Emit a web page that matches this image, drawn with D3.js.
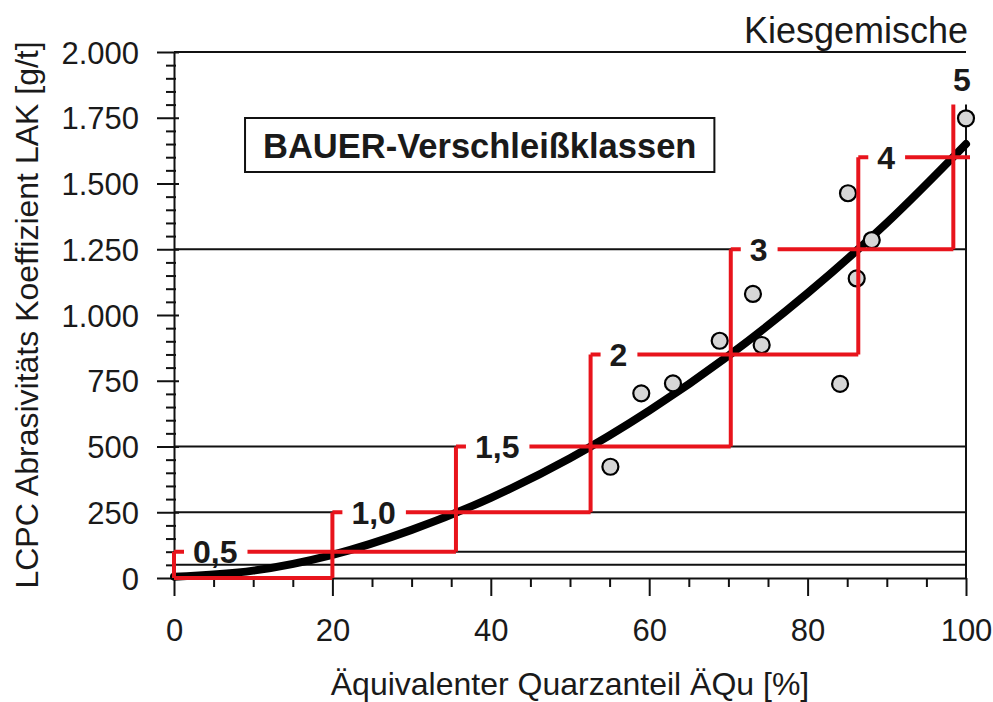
<html>

<head>
	<title>LAK BAUER-Verschleissklassen</title>
	<style>
		body {
			margin:0;
			padding:0;
			background:#fff;
		}
		svg { display:block; }
		text {
			font-family: "Liberation Sans", Arial, sans-serif;
			fill:#1a1a1a;
		}
		.axis path, .axis line { stroke:#111; stroke-width:2; }
		.axis text { font-size:31px; }
		.minor path { display:none; }
	</style>
</head>

<body>

	<svg width="993" height="702"></svg>

	<script src="https://d3js.org/d3.v7.min.js"></script>

	<script>

		// BAUER wear classes: label, LAK level, AQu boundaries where the fit line crosses the levels
		var classLabels = ["0,5", "1,0", "1,5", "2", "3", "4", "5"];
		var classLevels = [100, 250, 500, 850, 1250, 1600, 1800];
		var classBounds = [0, 20, 35.6, 52.6, 70.3, 86.4, 98.4, 100];

		// horizontal reference lines (LCPC classes)
		var gridLevels = [50, 100, 250, 500, 1250, 2000];

		// fit line
		var curveX = [0, 10, 20, 30, 40, 50, 60, 70, 80, 90, 100];
		var curveY = [5, 28, 88, 183, 305, 455, 636, 845, 1083, 1350, 1650];

		// measured gravel mixtures
		var sampleX = [55.1, 59.0, 63.0, 68.9, 73.1, 74.2, 84.1, 85.1, 86.2, 88.1, 100];
		var sampleY = [423, 702, 740, 902, 1080, 886, 738, 1463, 1139, 1285, 1748];

		var xTicks = [0, 20, 40, 60, 80, 100];
		var yTicks = [0, 250, 500, 750, 1000, 1250, 1500, 1750, 2000];

		var margin = {left:174, right:27, top:52, bottom:124};
		var width = 993, height = 702;

		var x = d3.scaleLinear().domain([0, 100]).range([margin.left, width - margin.right]);
		var y = d3.scaleLinear().domain([0, 2000]).range([height - margin.bottom, margin.top]);

		var red = "#e8141c";
		var svg = d3.select("svg");

		var de = d3.formatLocale({decimal:",", thousands:".", grouping:[3], currency:["", " €"]});
		var fmt = de.format(",");

		// grid lines
		svg.append("g")
			.selectAll("line")
			.data(gridLevels)
			.enter()
			.append("line")
			.attr("x1", x(0))
			.attr("x2", x(100))
			.attr("y1", function(d){ return y(d); })
			.attr("y2", function(d){ return y(d); })
			.style("stroke", "#111")
			.style("stroke-width", 2);

		// right border
		svg.append("line")
			.attr("x1", x(100)).attr("x2", x(100))
			.attr("y1", y(0)).attr("y2", y(classLevels[6]))
			.style("stroke", "#111")
			.style("stroke-width", 2);

		// minor ticks
		var minorY = d3.range(0, 2001, 50).filter(function(v){ return v % 250 != 0; });
		var minorX = d3.range(0, 101, 5).filter(function(v){ return v % 20 != 0; });

		svg.append("g")
			.attr("class", "axis minor")
			.attr("transform", "translate(" + x(0) + ",0)")
			.call(d3.axisLeft(y).tickValues(minorY).tickSize(8).tickFormat(""))
			.selectAll(".tick line").attr("x1", 2);

		svg.append("g")
			.attr("class", "axis minor")
			.attr("transform", "translate(0," + y(0) + ")")
			.call(d3.axisBottom(x).tickValues(minorX).tickSize(9).tickFormat(""));

		// major axes
		var yAxis = svg.append("g")
			.attr("class", "axis")
			.attr("transform", "translate(" + x(0) + ",0)")
			.call(d3.axisLeft(y).tickValues(yTicks).tickSizeInner(17).tickSizeOuter(0).tickPadding(18).tickFormat(fmt));
		yAxis.selectAll(".tick line").attr("x1", 5);
		yAxis.selectAll("text").attr("fill", "#1a1a1a").attr("dy", "0.36em");

		var xAxis = svg.append("g")
			.attr("class", "axis")
			.attr("transform", "translate(0," + y(0) + ")")
			.call(d3.axisBottom(x).tickValues(xTicks).tickSizeInner(18).tickSizeOuter(0).tickPadding(23));
		xAxis.selectAll("text").attr("fill", "#1a1a1a");

		// fit line
		var line = d3.line()
			.x(function(d){ return x(d[0]); })
			.y(function(d){ return y(d[1]); })
			.curve(d3.curveMonotoneX);

		svg.append("path")
			.datum(d3.zip(curveX, curveY))
			.attr("d", line)
			.style("fill", "none")
			.style("stroke", "#000")
			.style("stroke-width", 8)
			.style("stroke-linecap", "round");

		// samples
		svg.append("g")
			.selectAll("circle")
			.data(d3.zip(sampleX, sampleY))
			.enter()
			.append("circle")
			.attr("cx", function(d){ return x(d[0]); })
			.attr("cy", function(d){ return y(d[1]); })
			.attr("r", 8)
			.style("fill", "#d6d6d6")
			.style("stroke", "#000")
			.style("stroke-width", 2.2);

		// staircase of the wear classes
		var levels = [0].concat(classLevels);
		var stairs = svg.append("g");
		for (var i = 0; i < levels.length - 1; i++) {
			var left = classBounds[Math.max(i - 1, 0)];
			var right = classBounds[i + 1];
			var ext = i == levels.length - 2 ? 4 : 0;
			stairs.append("line")
				.attr("x1", x(left)).attr("x2", x(right) + ext)
				.attr("y1", y(levels[i])).attr("y2", y(levels[i]));
			stairs.append("line")
				.attr("x1", x(classBounds[i])).attr("x2", x(classBounds[i]))
				.attr("y1", y(i == 0 ? 0 : levels[i - 1])).attr("y2", y(levels[i + 1]));
		}
		stairs.selectAll("line")
			.style("stroke", red)
			.style("stroke-width", 4);

		// class labels sitting in a gap of the red line
		var labels = svg.append("g");
		for (var k = 1; k < levels.length - 1; k++) {
			var x0 = x(classBounds[k - 1]);
			var ly = y(levels[k]);
			var gap = labels.append("rect").style("fill", "#fff");
			var t = labels.append("text")
				.attr("x", x0 + 19)
				.attr("y", ly)
				.attr("dy", "0.36em")
				.style("font-size", "32px")
				.style("font-weight", "bold")
				.text(classLabels[k - 1]);
			var w = t.node().getComputedTextLength();
			gap.attr("x", x0 + 10)
				.attr("y", ly - 10)
				.attr("width", w + 19)
				.attr("height", 20);
		}
		labels.append("text")
			.attr("x", x(100) - 4)
			.attr("y", y(1895))
			.attr("dy", "0.36em")
			.attr("text-anchor", "middle")
			.style("font-size", "32px")
			.style("font-weight", "bold")
			.text(classLabels[6]);

		// legend box
		var legend = svg.append("g");
		var legendRect = legend.append("rect");
		var legendText = legend.append("text")
			.attr("x", x(38.6))
			.attr("y", 158)
			.attr("text-anchor", "middle")
			.style("font-size", "34.5px")
			.style("font-weight", "bold")
			.text("BAUER-Verschleißklassen");
		var bb = legendText.node().getBBox();
		legendRect
			.attr("x", bb.x - 18)
			.attr("y", 118)
			.attr("width", bb.width + 36)
			.attr("height", 54)
			.style("fill", "#fff")
			.style("stroke", "#111")
			.style("stroke-width", 2);

		// titles
		svg.append("text")
			.attr("x", x(100) + 2)
			.attr("y", 43)
			.attr("text-anchor", "end")
			.style("font-size", "36px")
			.text("Kiesgemische");

		svg.append("text")
			.attr("x", (x(0) + x(100)) / 2)
			.attr("y", 695)
			.attr("text-anchor", "middle")
			.style("font-size", "32px")
			.text("Äquivalenter Quarzanteil ÄQu [%]");

		svg.append("text")
			.attr("transform", "translate(38," + (y(0) + y(2000)) / 2 + ") rotate(-90)")
			.attr("text-anchor", "middle")
			.style("font-size", "32px")
			.text("LCPC Abrasivitäts Koeffizient LAK [g/t]");

	</script>

</body>

</html>
